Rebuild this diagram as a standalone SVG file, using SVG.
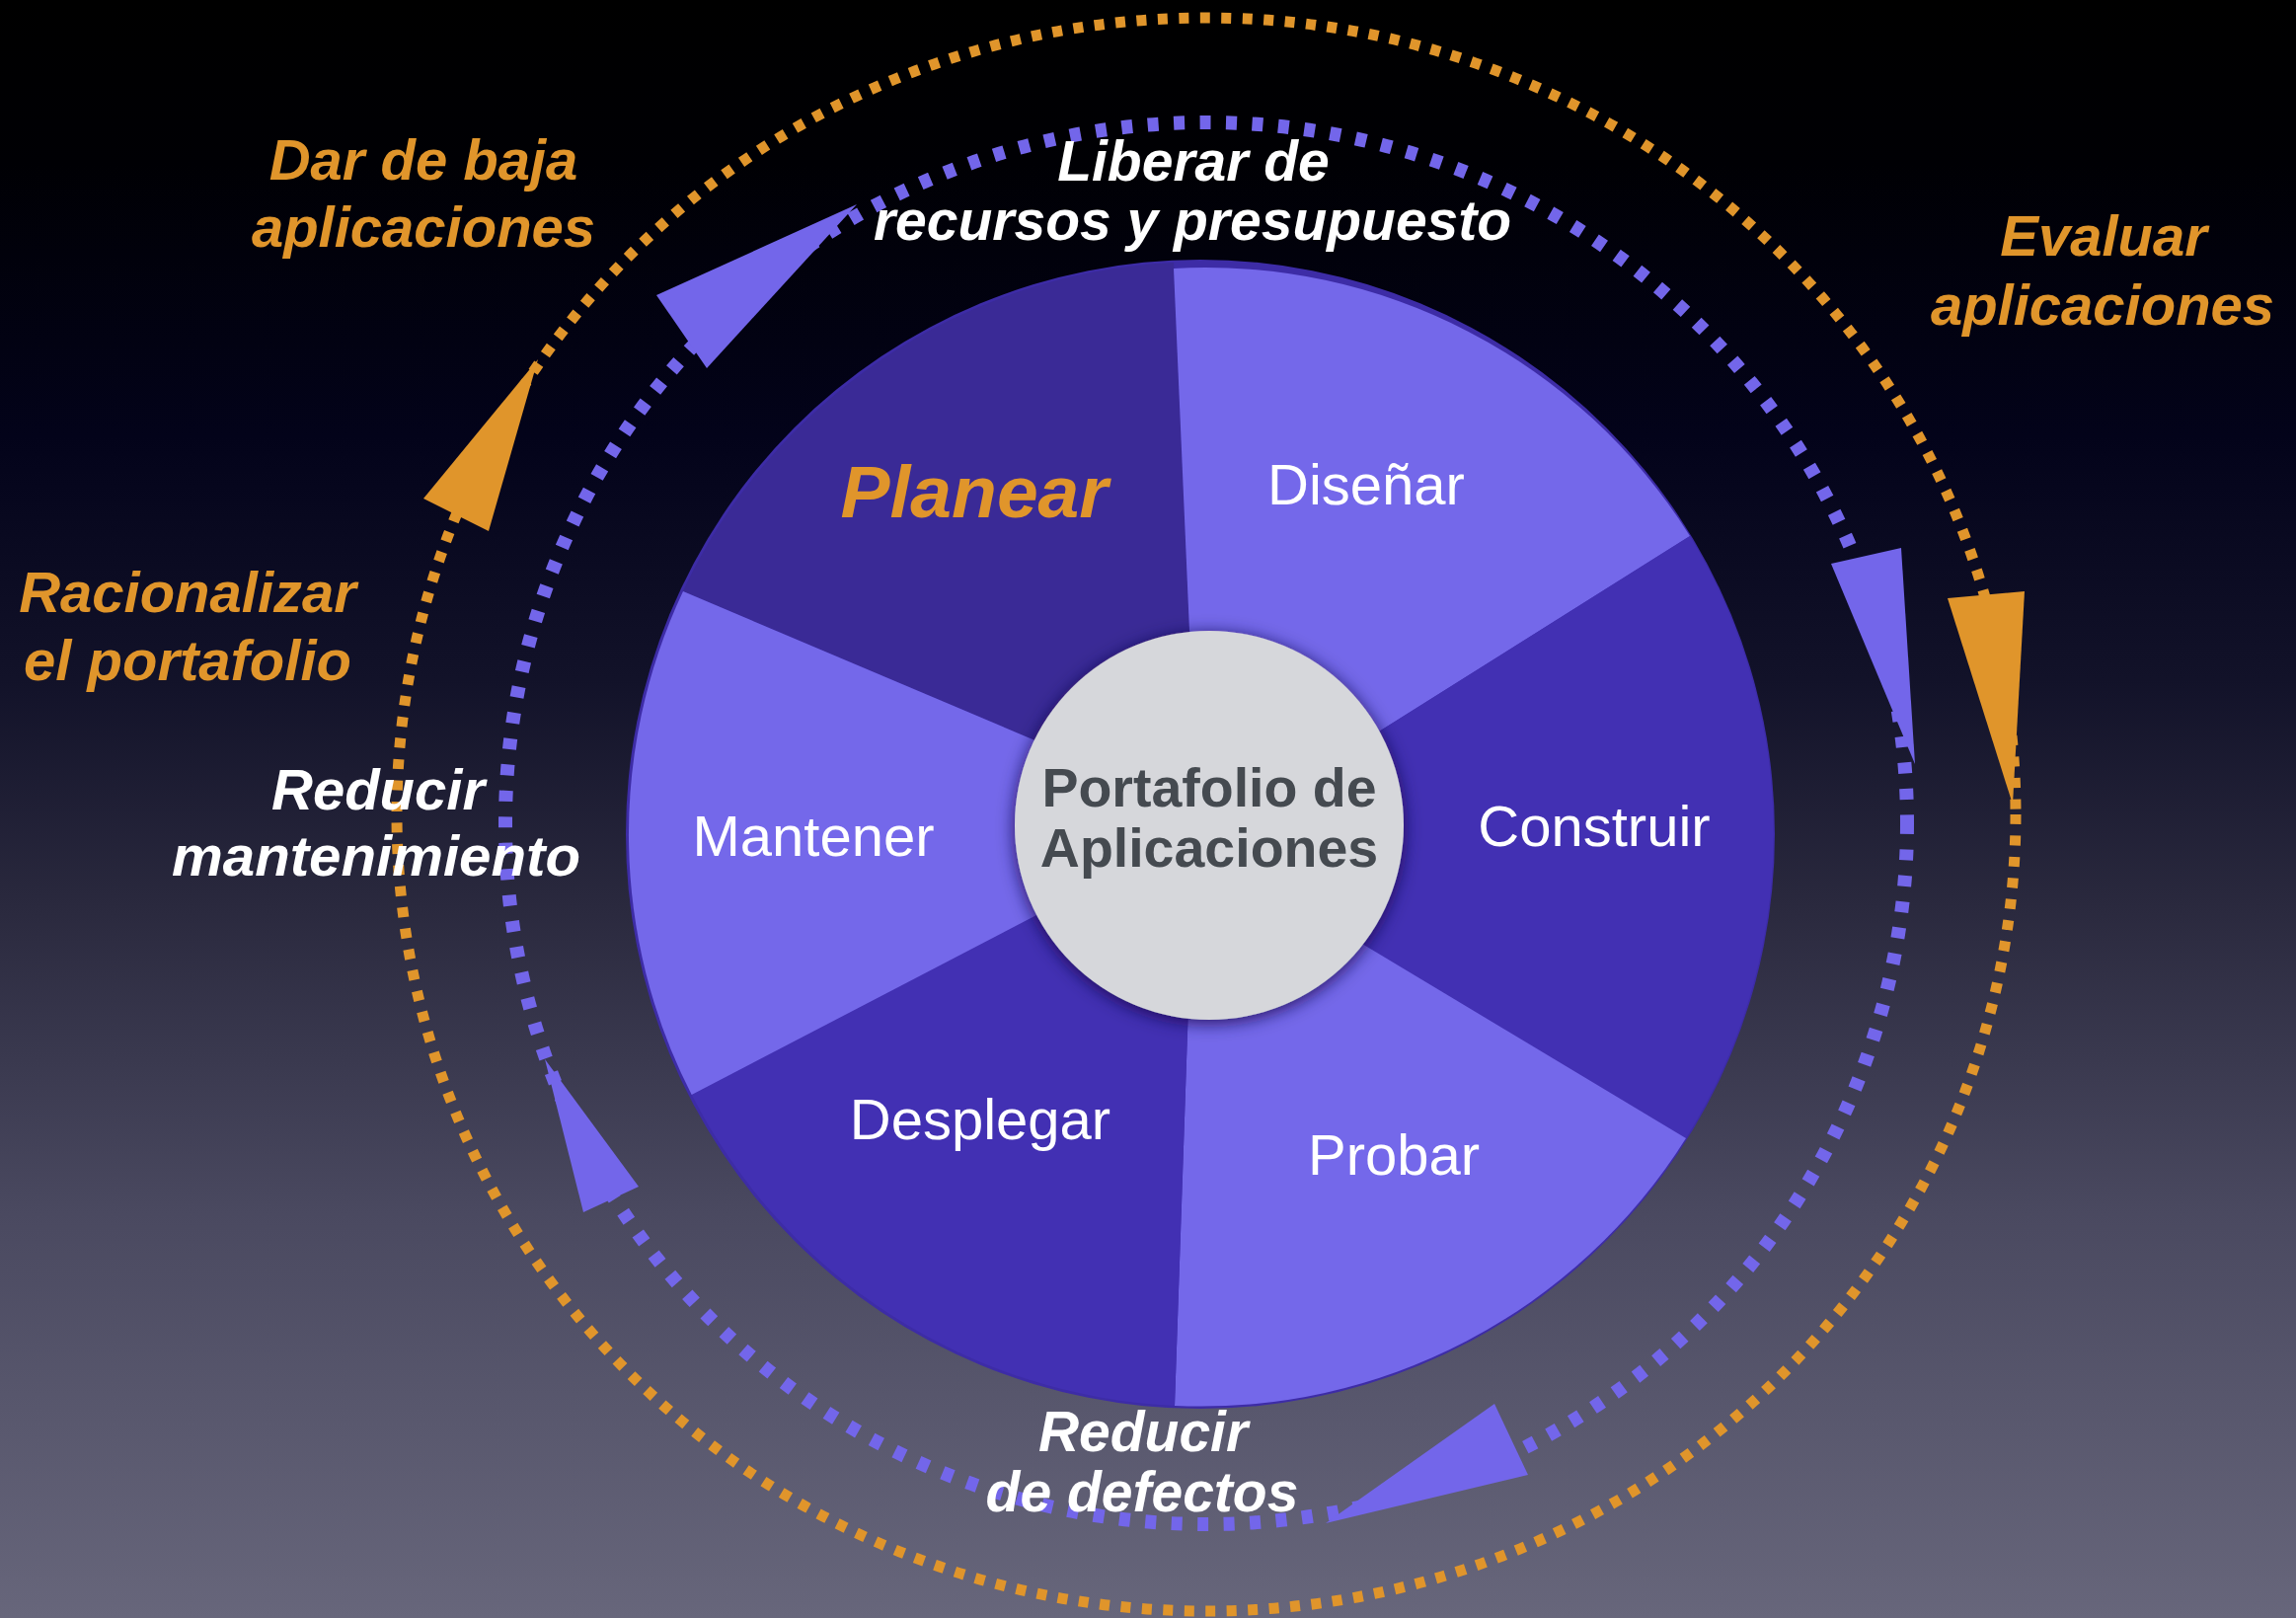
<svg xmlns="http://www.w3.org/2000/svg" width="2326" height="1639" viewBox="0 0 2326 1639">
<defs>
<linearGradient id="bg" x1="0" y1="0" x2="0" y2="1">
<stop offset="0" stop-color="#000000"/>
<stop offset="0.1" stop-color="#000004"/>
<stop offset="0.27" stop-color="#03031a"/>
<stop offset="0.42" stop-color="#121229"/>
<stop offset="0.56" stop-color="#2a293e"/>
<stop offset="0.75" stop-color="#4a4960"/>
<stop offset="1" stop-color="#67667b"/>
</linearGradient>
<filter id="shadow" x="-30%" y="-30%" width="160%" height="160%">
<feGaussianBlur in="SourceAlpha" stdDeviation="9"/>
<feOffset dx="0" dy="3" result="b"/>
<feFlood flood-color="#150c45" flood-opacity="0.85"/>
<feComposite in2="b" operator="in"/>
<feMerge><feMergeNode/><feMergeNode in="SourceGraphic"/></feMerge>
</filter>
<style>
.lbl{font-family:"Liberation Sans",Arial,sans-serif;font-weight:bold;font-style:italic;font-size:58px;text-anchor:middle}
.org{fill:#E0952B}
.wht{fill:#FFFFFF}
.wl{font-family:"Liberation Sans",Arial,sans-serif;font-size:58px;fill:#FFFFFF;text-anchor:middle}
.light{fill:#7468EA}
.dark{fill:#4230B3}
.ctr{font-family:"Liberation Sans",Arial,sans-serif;font-weight:bold;font-size:55.5px;fill:#454A50;text-anchor:middle}
.bdot{fill:none;stroke:#7366EA;stroke-width:14;stroke-dasharray:11 15.5}
.odot{fill:none;stroke:#E0952B;stroke-width:11;stroke-dasharray:10 11.5}
.barrow{fill:#7366EA}
.oarrow{fill:#E0952B}
</style>
</defs>
<rect x="0" y="0" width="2326" height="1639" fill="url(#bg)"/>

<g id="connectors">
<ellipse class="odot" cx="1222" cy="825" rx="820" ry="807"/>
<circle class="bdot" cx="1222" cy="834" r="710"/>
<polygon class="oarrow" points="545,364 429,505 495,538"/>
<polygon class="oarrow" points="1973,606 2051,599 2039,815"/>
<polygon class="barrow" points="868,207 665,299 716,373"/>
<polygon class="barrow" points="1855,571 1926,555 1940,774"/>
<polygon class="barrow" points="1343,1543 1514,1422 1548,1494"/>
<polygon class="barrow" points="552,1073 647,1202 591,1228"/>
</g>

<g id="wheel">
<circle cx="1216" cy="845" r="582" fill="#3d2ca6"/>
<g id="planear">
<path fill="#3A2A96" d="M691.8,599 A580,580 0 0 1 1189,266 L1212,800 L1150,793 Z"/>
<text class="lbl org" x="987" y="524" style="font-size:75px">Planear</text>
</g>
<g id="disenar">
<path class="light" d="M1189,272 A578,578 0 0 1 1712,543 L1300,802 L1212,800 Z"/>
<text class="wl" x="1384" y="511">Diseñar</text>
</g>
<g id="construir">
<path class="dark" d="M1712,543 A580,580 0 0 1 1708,1153 L1300,908 L1300,802 Z"/>
<text class="wl" x="1615" y="857">Construir</text>
</g>
<g id="probar">
<path class="light" d="M1708,1153 A580,580 0 0 1 1190,1424 L1208,900 L1300,908 Z"/>
<text class="wl" x="1412" y="1190">Probar</text>
</g>
<g id="desplegar">
<path class="dark" d="M1190,1424 A580,580 0 0 1 700.7,1109 L1150,875 L1208,900 Z"/>
<text class="wl" x="993" y="1154">Desplegar</text>
</g>
<g id="mantener">
<path class="light" d="M700.7,1109 A578,578 0 0 1 692,599 L1150,793 L1150,875 Z"/>
<text class="wl" x="824" y="867">Mantener</text>
</g>
</g>

<g id="portafolio">
<circle cx="1225" cy="836" r="197" fill="#D6D7DB" filter="url(#shadow)"/>
<text class="ctr" x="1225" y="817">Portafolio de</text>
<text class="ctr" x="1225" y="878">Aplicaciones</text>
</g>

<g id="label-dar-de-baja">
<text class="lbl org" x="429" y="182">Dar de baja</text>
<text class="lbl org" x="429" y="250">aplicaciones</text>
</g>
<g id="label-racionalizar">
<text class="lbl org" x="190" y="620">Racionalizar</text>
<text class="lbl org" x="190" y="689">el portafolio</text>
</g>
<g id="label-reducir-mantenimiento">
<text class="lbl wht" x="383" y="820">Reducir</text>
<text class="lbl wht" x="381" y="887" textLength="414" lengthAdjust="spacingAndGlyphs">mantenimiento</text>
</g>
<g id="label-liberar">
<text class="lbl wht" x="1209" y="183" style="font-size:57px">Liberar de</text>
<text class="lbl wht" x="1208" y="243" style="font-size:57px">recursos y presupuesto</text>
</g>
<g id="label-evaluar">
<text class="lbl org" x="2131" y="259">Evaluar</text>
<text class="lbl org" x="2130" y="329">aplicaciones</text>
</g>
<g id="label-reducir-defectos">
<text class="lbl wht" x="1158" y="1470" style="font-size:57px">Reducir</text>
<text class="lbl wht" x="1157" y="1531" style="font-size:57px">de defectos</text>
</g>
</svg>
